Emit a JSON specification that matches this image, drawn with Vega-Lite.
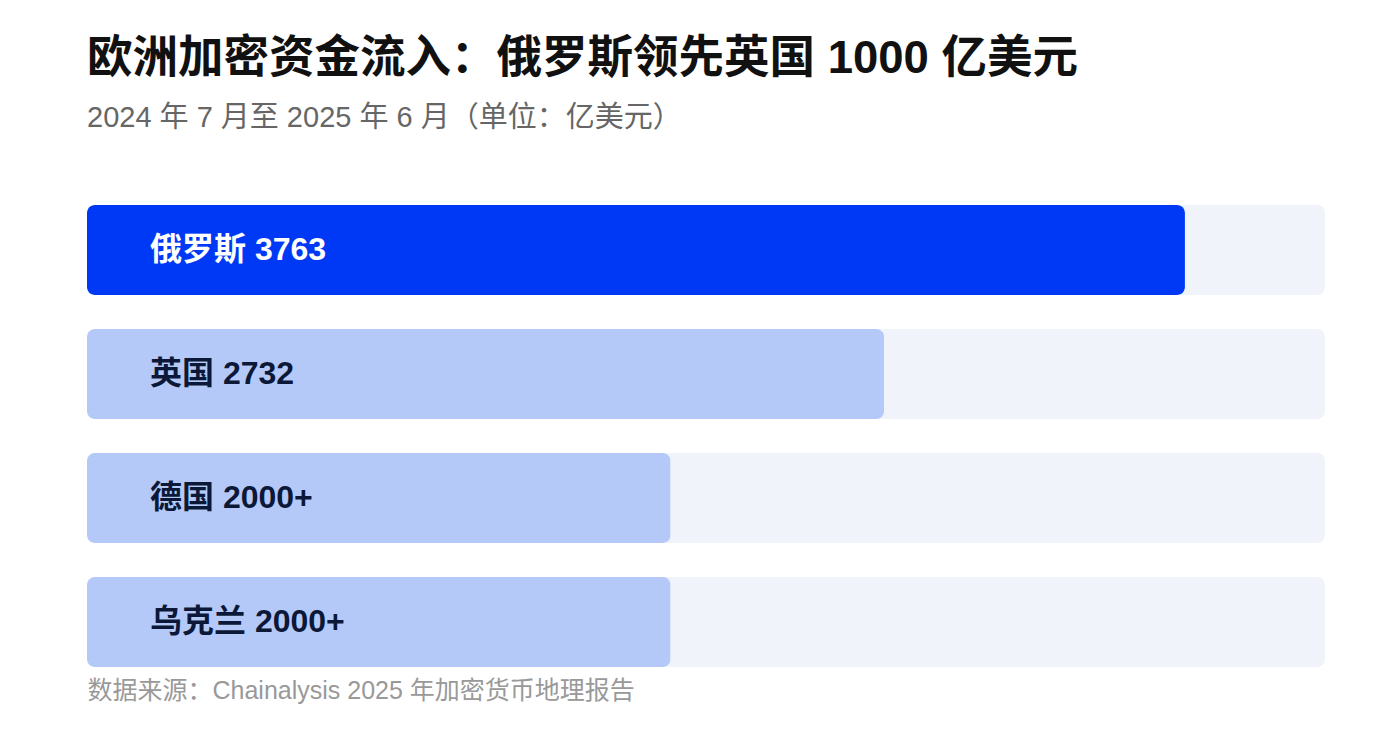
{
  "$schema": "https://vega.github.io/schema/vega-lite/v6.json",
  "description": "Crypto inflows in Europe, Jul 2024 - Jun 2025",
  "autosize": "none",
  "padding": {"left": 87, "top": 205, "right": 57, "bottom": 67},
  "width": 1238,
  "height": 462,
  "background": "#ffffff",
  "title": {
    "text": "欧洲加密资金流入：俄罗斯领先英国 1000 亿美元",
    "subtitle": "2024 年 7 月至 2025 年 6 月（单位：亿美元）",
    "anchor": "start",
    "frame": "group",
    "font": "Liberation Sans, Noto Sans CJK SC",
    "fontSize": 45.5,
    "fontWeight": "bold",
    "color": "#111111",
    "subtitleFont": "Liberation Sans, Noto Sans CJK SC",
    "subtitleFontSize": 29,
    "subtitleColor": "#666666",
    "subtitlePadding": 22,
    "offset": 72
  },
  "config": {"view": {"stroke": null}},
  "data": {
    "values": [
      {"country": "俄罗斯", "value": 3763, "label": "俄罗斯 3763"},
      {"country": "英国", "value": 2732, "label": "英国 2732"},
      {"country": "德国", "value": 2000, "label": "德国 2000+"},
      {"country": "乌克兰", "value": 2000, "label": "乌克兰 2000+"}
    ]
  },
  "encoding": {
    "y": {
      "field": "country",
      "type": "nominal",
      "sort": null,
      "scale": {"paddingInner": 0.274, "paddingOuter": 0},
      "axis": null
    }
  },
  "layer": [
    {
      "mark": {"type": "bar", "color": "#F0F4FA", "cornerRadius": 8},
      "encoding": {
        "x": {
          "datum": 4243,
          "type": "quantitative",
          "scale": {"domain": [0, 4243], "nice": false},
          "axis": {
            "domain": false,
            "ticks": false,
            "labels": false,
            "grid": false,
            "title": "数据来源：Chainalysis 2025 年加密货币地理报告",
            "titleAnchor": "start",
            "titleAlign": "left",
            "titleBaseline": "top",
            "titleFont": "Liberation Sans, Noto Sans CJK SC",
            "titleFontSize": 25,
            "titleFontWeight": "normal",
            "titleColor": "#999999",
            "titlePadding": 11
          }
        }
      }
    },
    {
      "mark": {"type": "bar", "cornerRadius": 8},
      "encoding": {
        "x": {"field": "value", "type": "quantitative"},
        "color": {
          "condition": {"test": "datum.country === '俄罗斯'", "value": "#0039F5"},
          "value": "#B4C9F7"
        }
      }
    },
    {
      "mark": {
        "type": "text",
        "align": "left",
        "baseline": "middle",
        "dx": 63,
        "font": "Liberation Sans, Noto Sans CJK SC",
        "fontSize": 32,
        "fontWeight": "bold"
      },
      "encoding": {
        "x": {"datum": 0, "type": "quantitative"},
        "text": {"field": "label"},
        "color": {
          "condition": {"test": "datum.country === '俄罗斯'", "value": "#ffffff"},
          "value": "#0B1838"
        }
      }
    }
  ]
}
